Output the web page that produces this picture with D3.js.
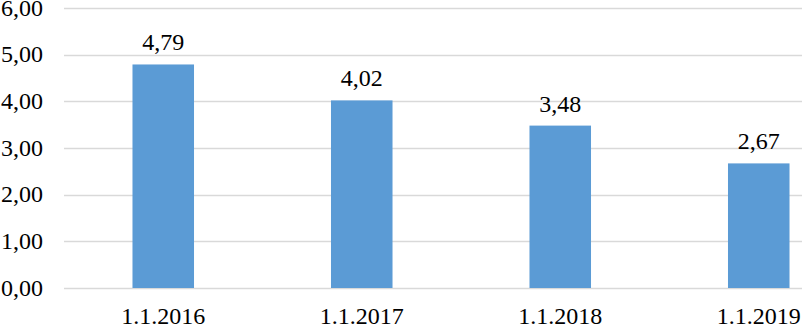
<!DOCTYPE html>
<html>
<head>
<meta charset="utf-8">
<script src="https://cdnjs.cloudflare.com/ajax/libs/d3/7.8.5/d3.min.js"></script>
<style>
  body { margin: 0; background: #fff; }
  svg { display: block; font-family: "Liberation Serif", "Times New Roman", serif; }
</style>
</head>
<body>
<div id="chart"></div>
<script>
var categories = ['1.1.2016', '1.1.2017', '1.1.2018', '1.1.2019'];
var values = [4.79, 4.02, 3.48, 2.67];
var yTicks = [0, 1, 2, 3, 4, 5, 6];

var W = 802, H = 326;
var margin = {left: 64, top: 8, bottom: 38};
var plotW = 198.5 * categories.length;

var svg = d3.select('#chart').append('svg')
    .attr('width', W)
    .attr('height', H);

var x = d3.scaleBand()
    .domain(categories)
    .range([margin.left, margin.left + plotW])
    .paddingInner(0.69)
    .paddingOuter(0.345);

var y = d3.scaleLinear()
    .domain([0, 6])
    .range([H - margin.bottom, margin.top]);

var fmt = function(v) { return d3.format('.2f')(v).replace('.', ','); };

// gridlines
svg.append('g')
    .selectAll('line')
    .data(yTicks)
    .enter().append('line')
        .attr('x1', margin.left)
        .attr('x2', margin.left + plotW)
        .attr('y1', function(d) { return Math.round(y(d)) + 0.5; })
        .attr('y2', function(d) { return Math.round(y(d)) + 0.5; })
        .attr('stroke', '#d9d9d9')
        .attr('stroke-width', 1.5);

// y labels
svg.append('g')
    .selectAll('text')
    .data(yTicks)
    .enter().append('text')
        .attr('x', 43)
        .attr('y', function(d) { return y(d) + 7.5; })
        .attr('text-anchor', 'end')
        .attr('font-size', 24)
        .attr('fill', '#000')
        .text(fmt);

// bars
svg.append('g')
    .selectAll('rect')
    .data(values)
    .enter().append('rect')
        .attr('x', function(d, i) { return x(categories[i]); })
        .attr('width', x.bandwidth())
        .attr('y', function(d) { return y(d); })
        .attr('height', function(d) { return y(0) - y(d); })
        .attr('fill', '#5b9bd5');

// value labels
svg.append('g')
    .selectAll('text')
    .data(values)
    .enter().append('text')
        .attr('x', function(d, i) { return x(categories[i]) + x.bandwidth() / 2; })
        .attr('y', function(d) { return y(d) - 14; })
        .attr('text-anchor', 'middle')
        .attr('font-size', 24)
        .attr('fill', '#000')
        .text(fmt);

// category labels
svg.append('g')
    .selectAll('text')
    .data(categories)
    .enter().append('text')
        .attr('x', function(d) { return x(d) + x.bandwidth() / 2; })
        .attr('y', H - 2)
        .attr('text-anchor', 'middle')
        .attr('font-size', 24)
        .attr('fill', '#000')
        .text(function(d) { return d; });
</script>
</body>
</html>
